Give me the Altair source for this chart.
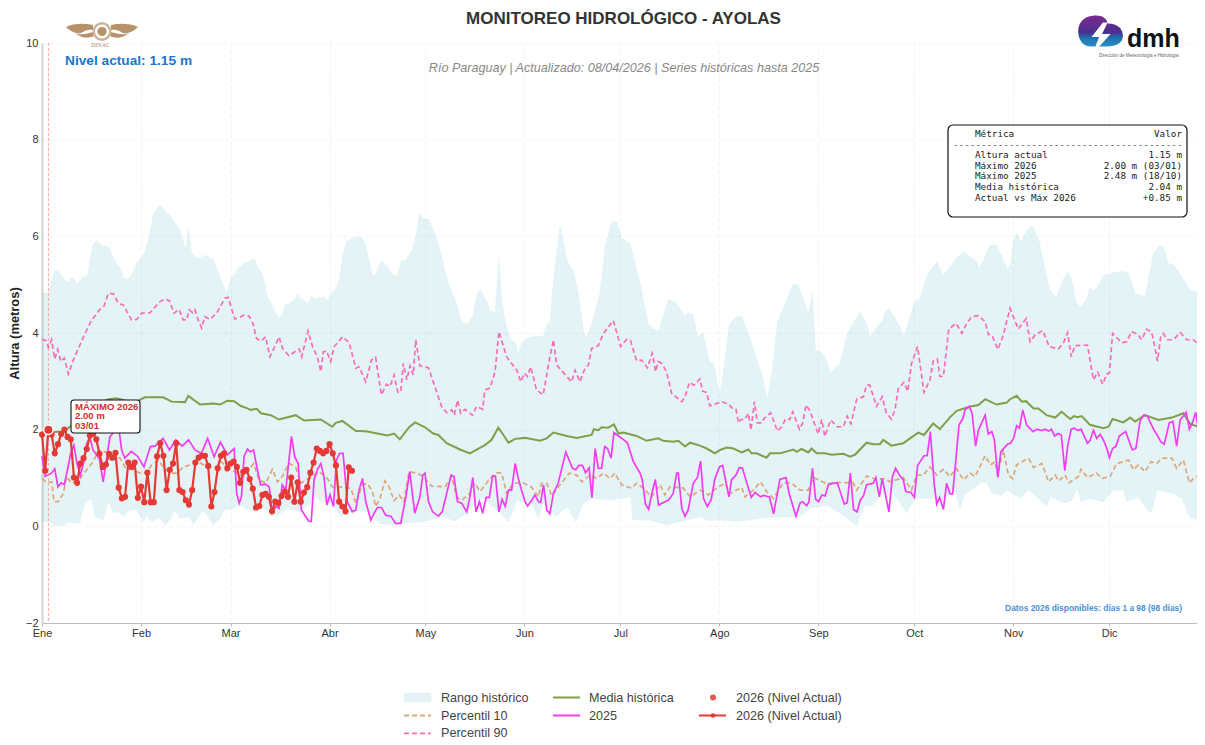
import urllib.parse
import altair as alt
import pandas as pd

# Values: (day of year, metres)
UPPER = [(1,4.82),(3,4.82),(4.9,5.3),(6.1,5.29),(7.7,5.13),(9.1,5.04),(10,5.15),(11,5.11),(12.2,5.01),(14,5.17),(15.2,5.17),(16.9,5.82),(18.2,5.91),(20.2,5.8),(21.8,5.79),(24.4,5.43),(25.3,5.37),(26.7,5.13),(28.1,5.11),(29.1,5.2),(30.7,5.44),(32.8,5.61),(34.2,5.86),(36,6.48),(38,6.65),(41.2,6.42),(44.3,6.14),(45.6,5.82),(46.2,5.75),(47,6.17),(48,5.63),(50,5.54),(52.5,5.61),(54.8,5.51),(57.4,5.06),(59,4.82),(60.5,5.17),(61.3,5.19),(62.9,5.37),(65,5.46),(66,5.49),(67.6,5.54),(68.6,5.36),(69.4,5.32),(70.7,5.1),(71.7,4.75),(73.3,4.58),(74.4,4.41),(75.4,4.3),(76.5,4.41),(77.5,4.6),(78.5,4.61),(80.3,4.7),(81.4,4.81),(82.2,4.7),(83.3,4.68),(84.5,4.61),(85.6,4.75),(86.9,4.7),(89.5,4.75),(90.6,4.67),(91.8,4.82),(93.2,4.92),(94.4,5.1),(95.3,5.58),(96.6,5.89),(98.4,5.96),(100,5.99),(101.6,5.96),(102.8,5.75),(104.2,5.34),(104.7,5.18),(105.5,5.2),(107.5,5.49),(109.4,5.39),(110.7,5.22),(112.5,5.17),(113.6,5.49),(115.2,5.5),(117.2,5.72),(118.3,5.99),(119.4,6.46),(120.7,6.36),(122.3,6.36),(124.3,6.06),(125.9,5.72),(128.5,5.03),(131.1,4.61),(132.5,4.27),(134.5,4.17),(136.2,4.34),(137.4,4.79),(138.5,4.91),(140.6,4.65),(141.6,4.46),(143.2,4.42),(144.4,5.54),(145.3,4.68),(146.8,4.1),(148.4,3.86),(149.7,3.79),(150.5,3.58),(151.5,3.79),(153.1,3.89),(156.2,3.94),(158.3,3.92),(159.4,4.17),(160.4,4.23),(161.5,5.1),(163.6,6.23),(165.7,5.51),(167.8,5.27),(169.3,4.82),(170.9,4.06),(171.6,3.89),(173.5,4.17),(176.1,4.82),(177.7,5.79),(179.8,6.3),(181.4,6.3),(182.9,5.96),(185.5,5.86),(188.7,5.03),(191.3,4.17),(194.4,4.03),(197.6,4.7),(199.7,4.65),(202.8,4.34),(203.8,4.42),(205.4,4.37),(206.7,3.92),(208.5,4.01),(210.6,3.37),(211.7,3.39),(213.8,2.72),(214.8,3.17),(216.7,4.17),(218.5,4.32),(220.6,4.35),(223.2,3.89),(225.3,3.44),(226.9,3.17),(228.6,2.61),(230.3,3.3),(231.8,4.23),(236.8,5.01),(238.4,4.99),(241.5,4.41),(242.8,4.82),(243.8,3.61),(245,3.65),(246.7,3.51),(248.5,3.17),(251.4,3.37),(253.8,3.99),(255.8,4.23),(257.7,4.44),(259.8,4.2),(260.8,3.92),(264,4.2),(264.7,4.2),(265.5,4.44),(266.8,4.51),(270.3,4.13),(271.5,3.92),(275,4.68),(276.7,4.72),(278.8,5.2),(281.8,5.48),(283.9,5.2),(286,5.37),(288,5.55),(290.2,5.68),(294.4,5.48),(295.1,5.32),(296.5,5.51),(298.6,5.82),(300.6,5.82),(304,5.32),(305,5.41),(305.9,5.92),(306.9,6.08),(308.2,5.87),(310.1,6.13),(311.9,6.22),(314,5.89),(317.1,4.92),(319.2,4.72),(321.6,5.13),(323.1,5.27),(324.2,5.1),(325.5,4.65),(327,4.52),(328.9,4.72),(329.9,4.95),(330.8,4.88),(332,4.92),(334.3,5.2),(337.3,5.25),(340.4,5.28),(342,5.23),(344.1,4.82),(347.2,4.75),(349.8,5.65),(351.4,5.79),(352.9,5.8),(354.5,5.44),(356.1,5.41),(357.7,5.27),(361.3,4.88),(363.4,4.86),(366,4.68)]

LOWER = [(1,.1),(3.5,.1),(5,.01),(7.7,.01),(9.3,.1),(10.8,.06),(12.9,.08),(14.5,.51),(16.6,.56),(17.6,.2),(20.2,.13),(21.8,.53),(23.4,.27),(25,.3),(26.5,.2),(28.6,.34),(30.7,.34),(32.8,.1),(33.8,.23),(35.4,.1),(38,.17),(39.6,.03),(41.2,.13),(42.7,.34),(44.3,.17),(47.4,.2),(48.5,.03),(51.6,.34),(54.8,.03),(57.1,.17),(58.1,.34),(60.2,.35),(62.9,.44),(66,.34),(68.1,.3),(70.2,.37),(72.8,.3),(74.9,.23),(78,.37),(82.2,.3),(85.3,.48),(86.9,.63),(88.5,.51),(91.1,.51),(92.7,.41),(94.8,.2),(96.8,.3),(98.9,.3),(102.1,.34),(105.2,.2),(106.8,.06),(111.5,.03),(116.5,.08),(120.7,.1),(127,.21),(130.6,.1),(133.2,.23),(137.4,.54),(139.5,.58),(143.2,.37),(147.4,.1),(150,.54),(152.6,.51),(154.7,.48),(156.8,.17),(158.3,.48),(162.5,.2),(165.7,.41),(168.5,.1),(170.9,.48),(173.5,.58),(179.3,.54),(183.4,.58),(185.7,.61),(186.4,.14),(191.8,.13),(197,.03),(203.3,.13),(207.5,.2),(210.1,.12),(213.8,.13),(219,.1),(227.4,.17),(232.6,.2),(238.9,.2),(242,.37),(247.3,.44),(252.5,.23),(256.7,.01),(258.8,.41),(261.9,.44),(264.5,.68),(268.2,.68),(272.4,.27),(275,.58),(280.7,.58),(284,.5),(286,.72),(287.6,.72),(289.1,.37),(290.7,.68),(292.8,.75),(295.4,.89),(297.5,.92),(299.1,.68),(302.2,.65),(303.8,.75),(308,.58),(310.6,.75),(313.7,.58),(316.3,.41),(317.4,.61),(322.1,.48),(324.2,.54),(326,.79),(327,.51),(329.9,.58),(334.1,.51),(337.3,.75),(340.4,.75),(341.4,.51),(345.1,.61),(348.2,.3),(349.3,.3),(350.9,.75),(356.1,.68),(358.7,.58),(361.3,.17),(364.5,.13),(366,.1)]

P10 = [(1,.99),(2.5,.9),(4,.92),(4.8,.51),(6.1,.51),(7.7,.68),(8.7,1.03),(10.3,.89),(12.9,.99),(15,1.17),(17.1,1.34),(18.7,1.58),(20.8,1.54),(25.5,1.41),(27,1.23),(29.6,1.17),(31.7,1.1),(33.8,1.1),(35.4,1.27),(37.5,1.37),(39,1.23),(41.2,1.1),(43.3,1.1),(45.3,1.23),(47.4,1.27),(50,1.34),(52.7,1.23),(55.8,1.23),(57.1,1.34),(59.7,1.2),(62.3,1.1),(64.4,1.03),(67.4,1.3),(69.1,.96),(71.2,.89),(73.3,1.18),(74.9,.92),(76.4,1.03),(78.5,1.3),(80.6,1.23),(82.2,.89),(84.8,.99),(88,1.13),(90.6,.99),(92.1,.82),(95.3,.81),(97.9,.79),(99.5,.48),(101.6,.86),(103.1,.89),(104.7,.72),(105.7,.41),(107.1,.58),(108.6,.94),(109.9,.82),(111.5,.53),(113.1,.65),(114.6,.51),(116.2,1.13),(118.6,1.1),(120.7,1.03),(123.3,.83),(127.5,.82),(129.6,1.03),(131.1,.61),(132.7,.54),(135.3,.68),(136.9,.89),(138.5,.72),(141.6,.99),(143.7,1.11),(145.3,1.1),(146.8,.68),(148.9,.89),(152,.9),(154.7,.81),(156.8,.61),(157.8,.89),(159.4,.89),(161,.63),(163.6,.86),(166.5,1.1),(168.8,1.06),(170.4,.92),(173,1.06),(175.1,.99),(177.2,1.1),(179.3,.99),(180.8,1.1),(182.9,.86),(186,.79),(187.6,.89),(189.7,.79),(192.3,.61),(195,.86),(196.5,.65),(198.1,.82),(202.3,.79),(204.4,.61),(207.5,.75),(210.1,.65),(213.3,.82),(215.4,.89),(216.9,.68),(219,.75),(220.6,.81),(221.6,.61),(224.2,.75),(226.5,.92),(228.4,.72),(230.5,.58),(233.7,.9),(236.3,.89),(238.9,.75),(241.5,.75),(243.1,1.01),(247.3,.88),(250.4,.91),(255.6,.9),(256.7,.75),(259.8,1.04),(262.9,.97),(265.6,.99),(267.1,.92),(271.3,1.01),(273.9,.75),(275.5,1.06),(277.6,1.06),(279.7,1.23),(281.8,1.06),(283.9,1.18),(286,1.03),(287.9,1.2),(290.2,.96),(292.3,1.1),(293.8,1.03),(297,1.46),(298.6,1.27),(300.1,1.34),(300.9,1.06),(302.7,1.58),(304.3,1.06),(305.6,.99),(306.9,1.27),(310.6,1.41),(312.2,1.22),(314.8,1.3),(316.9,.92),(319,1.06),(320,.94),(322.1,1.06),(323.3,.9),(326.3,1.03),(327.1,1.18),(329.1,1.01),(332,1.1),(333.6,.99),(336.2,1.03),(338.3,1.3),(342,1.37),(343.5,1.17),(345.1,1.27),(347.2,1.13),(349.1,1.34),(350.9,1.3),(352.4,1.41),(355.6,1.41),(357.1,1.2),(359.2,1.37),(361.1,.9),(362.9,1.03),(364.5,1.03),(366,1.13)]

P90 = [(1,3.87),(2.3,3.84),(3,3.7),(4,3.86),(5,3.46),(5.9,3.66),(6.9,3.41),(8,3.48),(9.3,3.15),(10.8,3.44),(12.9,3.75),(14.5,3.99),(16.6,4.27),(19.2,4.49),(20.5,4.56),(21.8,4.82),(23.4,4.81),(25,4.61),(26.5,4.58),(29.1,4.27),(30.7,4.28),(32.3,4.41),(34.9,4.42),(38,4.65),(39.6,4.7),(41,4.67),(42.4,4.41),(44,4.49),(45.3,4.27),(46.4,4.27),(47.2,4.48),(48.3,4.42),(49,4.48),(50,4.27),(51.1,4.1),(52.1,4.34),(53.7,4.28),(55.8,4.41),(58.4,4.72),(59.4,4.74),(61.5,4.29),(62.9,4.32),(64.4,4.37),(66,4.35),(67.2,4.2),(68.3,3.89),(69.7,3.83),(71.2,3.92),(72.5,3.51),(73.8,3.68),(75.4,3.92),(76.5,3.68),(78.5,3.53),(81.7,3.67),(82.5,3.51),(84.5,4.04),(85.9,3.72),(87.4,3.51),(88.5,3.2),(89.3,3.61),(90.3,3.63),(91.6,3.41),(92.7,3.72),(95.3,3.92),(97.4,3.8),(99.5,3.27),(100.5,3.3),(102.6,2.99),(104.4,3.44),(105.7,3.5),(107.5,2.72),(109.1,2.94),(110.2,2.89),(111.5,3.13),(112.7,2.77),(113.6,2.79),(114.4,3.37),(115.5,3.03),(116.5,3.32),(117.5,3.13),(118.3,3.86),(119.6,3.32),(122.3,3.28),(124.3,2.89),(126.4,2.48),(128,2.35),(129.6,2.41),(130.4,2.3),(131.4,2.61),(132.4,2.34),(133.8,2.42),(136.1,2.3),(137.4,2.48),(139.3,2.42),(140,2.82),(141.6,2.86),(143.2,3.2),(144.4,4.03),(146.8,3.51),(150,3.23),(151.3,2.99),(152.4,3.17),(153.3,3.1),(154.4,3.3),(156.2,2.82),(158.3,2.72),(160.2,3.44),(161.5,3.86),(162.5,3.34),(165.7,3.1),(167.2,2.99),(168.3,3.23),(169.8,2.99),(171.4,3.27),(172.5,3.34),(173.5,3.68),(175.6,3.74),(177.2,3.99),(180.3,4.26),(182.6,3.72),(184.5,3.87),(185.7,3.84),(187.6,3.43),(189.2,3.44),(191,3.28),(192.5,3.58),(193.6,3.2),(194.4,3.41),(195.5,3.37),(197,3.2),(198.6,2.75),(201.8,2.58),(202.8,2.68),(204.2,2.98),(205.6,2.92),(207.5,3.05),(208.3,2.8),(209.6,2.77),(210.6,2.49),(214.3,2.58),(216.4,2.53),(218,2.42),(218.8,2.42),(219.6,2.14),(220.3,2.21),(221.6,2.21),(222.7,2.34),(223.5,1.99),(224.6,2.58),(225.5,2.14),(226.9,2.14),(227.6,2.23),(229.7,2.35),(231.8,1.97),(233.1,2.06),(234.5,2.23),(235.7,2.21),(236.6,2.37),(238.7,2.01),(239.7,2.13),(240.8,2.51),(242,2.39),(244.6,1.91),(245.7,2.21),(246.7,1.86),(248.5,2.2),(250.6,2.06),(252.5,2.06),(253.7,2.28),(254.9,2.12),(256.7,2.63),(258.8,2.68),(259.8,2.92),(260.8,2.92),(262.9,2.48),(264.7,2.68),(266,2.34),(267.6,2.22),(268.7,2.41),(269.7,2.84),(271.5,2.98),(272.7,2.79),(273.9,3.37),(275.8,3.72),(277.8,2.77),(279.7,3.03),(280.7,3.42),(282,3.46),(282.8,3.1),(283.9,3.1),(285.6,4.08),(287.9,4.2),(289.7,3.99),(291.2,4.2),(292.8,4.34),(294.9,4.36),(297,4.23),(298,3.97),(299.1,3.96),(301,3.66),(302.7,3.96),(304.8,4.51),(307.4,4.08),(309.9,4.3),(311.1,3.82),(312.7,3.96),(315.1,4.05),(317.1,3.72),(320,3.67),(321.6,3.8),(322.9,4.01),(324,3.51),(325.2,3.74),(329.1,3.75),(331,3.03),(332.3,3.19),(333.9,2.94),(335.2,3.15),(336,3.17),(337,3.99),(339.9,3.8),(341.4,3.82),(343,4.03),(345.1,3.96),(346.1,3.86),(347.7,4.08),(349.3,4.01),(351.1,3.42),(352.1,3.92),(352.9,3.99),(354.2,3.86),(356.1,3.86),(358.2,4.01),(360.3,3.86),(362.4,3.86),(364.5,3.72),(366,4.17)]

MEAN = [(1,1.95),(4,1.95),(7.7,1.96),(9.8,2.06),(13,2.2),(17,2.5),(21.8,2.63),(24.4,2.65),(28.6,2.58),(31.2,2.6),(33.3,2.67),(39,2.67),(41.7,2.58),(45.9,2.57),(46.9,2.7),(50.6,2.52),(54.8,2.54),(56.9,2.52),(59.2,2.6),(61.3,2.59),(63.4,2.49),(65.5,2.44),(66.5,2.41),(68.4,2.43),(69.7,2.34),(72.8,2.3),(75.4,2.21),(80.6,2.3),(83.3,2.19),(88.5,2.21),(92.1,2.06),(93.2,2.14),(95.3,2.18),(99.5,1.97),(101,1.97),(103.1,1.96),(109.4,1.88),(111.5,1.92),(113.3,1.8),(116.2,2.05),(118.1,2.15),(121.2,2.05),(123.8,1.92),(125.4,1.89),(128,1.72),(132.2,1.59),(135.3,1.51),(138,1.61),(140,1.68),(142.1,1.79),(144.2,2.04),(145.8,1.89),(147.4,1.73),(149.5,1.81),(152.6,1.83),(157.3,1.77),(159.4,1.82),(161.5,1.94),(165.7,1.87),(168.8,1.83),(173.5,1.89),(174.2,2.01),(175.6,1.99),(176.6,2.05),(178.7,2.04),(180.5,2.11),(181.9,1.92),(183.4,1.94),(187.6,1.87),(190.8,1.77),(194.4,1.82),(196,1.77),(199.1,1.75),(200.7,1.77),(202.8,1.65),(204.4,1.73),(207.5,1.67),(209.6,1.61),(212.2,1.51),(213.8,1.58),(215.9,1.63),(218,1.61),(220.6,1.53),(222.7,1.59),(223.7,1.51),(225.3,1.51),(228.4,1.42),(229.5,1.51),(232.6,1.51),(236.8,1.59),(237.8,1.54),(239.4,1.6),(241.5,1.53),(242.5,1.61),(244.1,1.51),(246.7,1.51),(248.8,1.48),(252.5,1.5),(254.6,1.44),(256.1,1.48),(259.8,1.73),(261.9,1.7),(264,1.7),(265,1.79),(267.6,1.67),(271.3,1.72),(273.4,1.82),(276,1.94),(277.8,1.89),(280.7,2.13),(282.8,2.01),(286,2.26),(288.1,2.39),(292.3,2.48),(294.9,2.51),(297,2.63),(300.6,2.52),(303.8,2.56),(304.8,2.63),(306.9,2.7),(308.5,2.58),(309.8,2.59),(312.2,2.44),(313.7,2.44),(316.3,2.3),(319,2.25),(321,2.37),(323.7,2.22),(324.9,2.28),(326,2.26),(327.3,2.28),(329.9,2.1),(334.1,2.03),(335.7,2.06),(337,2.22),(340.4,2.15),(342.5,2.25),(344.1,2.17),(347.2,2.3),(351.4,2.2),(355.6,2.25),(359.2,2.34),(361.3,2.12),(364.5,2.05),(366,2.12)]

Y2025 = [(1,1.45),(2,1.03),(4,1.1),(5,1.19),(6,.82),(7,.9),(8,.86),(9,1.17),(10,1.51),(11,1.68),(12,1.3),(13,1.05),(14,1.3),(15,1.7),(16,1.85),(17,1.58),(19,1.4),(20.2,.92),(22.3,1.85),(25,2.08),(26,1.58),(27,1.41),(29,1.55),(31,1.45),(33,1.23),(35,1.65),(36.5,1.66),(39,1.82),(41,1.58),(43,1.79),(45,1.66),(47,1.79),(49,1.58),(51,1.51),(53,1.82),(55,1.44),(57,1.74),(59.2,1.48),(61.3,1.61),(62.1,.68),(62.9,.48),(63.6,.61),(64.4,1.44),(65.5,1.6),(66.3,1.54),(67.4,1.58),(68.6,1.17),(69.6,.86),(71.2,.87),(72.3,.82),(73.3,.3),(74.4,.41),(75.4,.37),(76.4,.86),(77.5,.75),(79.3,1.86),(80.3,1.44),(81.4,1.3),(82.4,.34),(83.8,.2),(84.8,.1),(85.5,.1),(86.4,.96),(87.4,1.17),(88.5,1.3),(89.5,1.03),(90.4,.44),(91.4,.65),(92.5,.41),(93.4,1.37),(94.4,1.51),(95.5,1.51),(96.8,.51),(98.4,.3),(99.5,.34),(100.5,.75),(101.6,.99),(102.6,.51),(104.2,.13),(105.2,.27),(106.3,.39),(107.5,.39),(108.9,.23),(110.5,.21),(112,.06),(113.6,.06),(115.2,.61),(116.4,1.13),(118,.27),(119.6,.61),(120.5,1.06),(121.2,1.1),(122.3,.51),(123.6,.3),(125.4,.21),(126.6,.3),(128,.68),(129.4,1.06),(130.3,1.03),(131.4,.51),(132.7,.48),(134.3,.3),(135.1,.54),(136.2,1.01),(137.2,.3),(138.3,.51),(139.3,.27),(140.4,.6),(141.4,.6),(142.4,1.04),(143.3,1.04),(144.4,.3),(145.4,.56),(146.4,.41),(147.4,.75),(148.4,.75),(149.5,1.3),(150.5,.99),(151.5,.75),(152.6,.51),(153.4,.42),(154.7,.54),(155.7,.65),(156.8,.51),(157.5,.49),(158.4,.86),(159.4,.34),(160.4,.26),(161.5,.68),(163,.89),(165.4,1.54),(167.5,1.2),(168.5,1.17),(169.5,1.26),(170.6,1.26),(171.6,1.11),(172.7,1.21),(173.6,.59),(174.6,1.61),(175.6,1.2),(176.6,1.2),(177.6,1.65),(178.5,1.61),(179.6,1.41),(180.5,1.94),(181.9,1.87),(183.4,1.8),(184.7,1.73),(186.6,1.34),(188.7,1.1),(189.4,.96),(190.4,.46),(191.4,.35),(192.4,.68),(193.5,.97),(194.5,.44),(196.5,.51),(197.6,.54),(199.1,.68),(200.2,1.1),(200.7,1.1),(201.8,.37),(202.8,.21),(203.8,.34),(205.4,.89),(206.7,1.01),(207.7,1.35),(208.6,.58),(209.8,.41),(211,.54),(212.2,.99),(213.6,1.23),(214.6,1.26),(216.6,.61),(217.4,.96),(218.8,1.06),(219.8,1.21),(220.8,1.21),(222.1,.92),(223.6,.6),(224.8,.7),(226.5,.61),(227.4,.64),(229.3,.61),(230.6,.26),(232.6,.97),(234.5,1.01),(235.5,.68),(237.6,.21),(238.9,.48),(239.7,.51),(241,.43),(241.7,.51),(242.8,1.2),(243.8,.56),(244.7,.51),(245.8,.65),(246.8,.63),(247.8,.86),(249.3,.89),(250.6,.9),(252.8,.46),(253.7,.49),(254.7,1.1),(255.7,.35),(256.8,.3),(257.8,.54),(258.8,.63),(259.8,.86),(261.9,.89),(262.7,1.01),(263.8,.61),(264.7,.99),(266.8,.3),(267.9,1.03),(268.9,1.2),(270.3,1.04),(271.3,.96),(272.1,.72),(273.7,.7),(274.8,.6),(275.8,1.26),(277.8,1.46),(278.8,1.46),(279.8,1.96),(281,.89),(281.8,.46),(282.7,.6),(283.9,.35),(284.9,.89),(286,.67),(286.8,.67),(287.6,1.23),(288.8,2.1),(290,2.23),(290.7,2.41),(292,2.48),(292.9,2.34),(294,1.66),(294.9,1.99),(297,2.3),(298,1.91),(299.1,1.96),(299.9,1.79),(301,1.01),(301.9,1.54),(304,1.7),(305,1.72),(305.9,1.82),(306.9,2.08),(307.8,2.03),(308.8,2.41),(310,2.1),(312,1.96),(313.2,2.01),(314.8,1.98),(315.8,2.01),(316.9,1.97),(317.8,2.01),(318.8,1.87),(319.9,1.92),(320.9,1.89),(322,1.15),(322.9,1.66),(324,2.01),(325,2.03),(326.1,1.98),(327.1,2.01),(329.1,1.72),(329.9,1.77),(331,1.99),(332,1.82),(333.1,1.9),(334.1,1.79),(335.2,1.61),(336,1.42),(337,1.61),(338.1,1.66),(339.1,1.87),(341.1,1.96),(343.2,1.58),(344.3,1.61),(345.6,2.17),(346.7,2.3),(347.9,2.28),(350,1.99),(351,1.89),(352.1,1.75),(353.2,1.7),(354.8,2.14),(355.9,2.17),(357.1,1.66),(358.2,2.2),(360.1,2.36),(361.1,2.01),(362,2.13),(363.1,2.36),(364.1,1.91),(365.2,1.99),(366,1.96)]

Y2026 = [1.9,1.15,2.0,1.9,1.51,1.7,1.91,2.0,1.85,1.8,1.01,.9,1.3,1.41,1.6,1.88,1.92,1.8,1.5,1.23,1.28,1.5,1.42,1.52,.8,.58,.61,1.32,1.23,1.32,.59,.82,.5,1.11,.5,.5,1.45,1.72,1.46,.75,1.17,1.3,1.72,.75,.71,.54,.45,.75,1.32,1.42,1.46,1.46,1.25,.41,.71,1.2,1.46,1.51,1.2,1.3,1.34,1.23,.9,1.13,1.17,.98,.78,.39,.42,.65,.67,.61,.31,.51,.48,.63,.72,.61,1.01,.51,.91,.51,.7,.81,1.11,1.32,1.61,1.56,1.51,1.56,1.7,1.51,1.26,.51,.41,.31,1.22,1.15]

MONTH_DAYS = [1, 32, 60, 91, 121, 152, 182, 213, 244, 274, 305, 335]
MONTH_NAMES = ["Ene", "Feb", "Mar", "Abr", "May", "Jun", "Jul", "Ago", "Sep", "Oct", "Nov", "Dic"]
MAX_DAY, MAX_VAL = 3, 2.0

FONT = "Liberation Sans"
BAND, C10, C90, CMEAN, C25, C26 = "#3fb0bf", "#dda679", "#f96cb8", "#7f9f4a", "#f23cf2", "#e53935"
OX, OY = 42, 43  # page position of the plot origin
W, H = 1163, 580


def cal(pairs):
    # readings were taken on a 365-interval ruler; the axis spans 364 days
    return pd.DataFrame({"d": [1 + (d - 1) * 364 / 365 for d, _ in pairs], "v": [v for _, v in pairs]})


xs = alt.X("d:Q", scale=alt.Scale(domain=[1, 365], nice=False, zero=False),
           axis=alt.Axis(values=MONTH_DAYS, title=None, grid=True, gridColor="#e9e9e9", gridDash=[4, 3], gridOpacity=.7,
                         gridWidth=.8, domainColor="#bbbbbb", domainWidth=1, tickColor="#bbbbbb", tickSize=3, labelFont=FONT,
                         labelFontSize=11, labelColor="#333333", labelPadding=1, labelFlush=False, labelOverlap=False,
                         labelExpr="['Ene','Feb','Mar','Abr','May','Jun','Jul','Ago','Sep','Oct','Nov','Dic'][indexof([1,32,60,91,121,152,182,213,244,274,305,335],datum.value)]"))
ys = alt.Y("v:Q", scale=alt.Scale(domain=[-2, 10], nice=False, zero=False),
           axis=alt.Axis(values=[-2, 0, 2, 4, 6, 8, 10], title="Altura (metros)", titleFont=FONT, titleFontSize=12.9,
                         titleFontWeight="bold", titleColor="#222222", titleX=-21, titleY=290, grid=True, gridColor="#e9e9e9",
                         gridDash=[4, 3], gridOpacity=.7, gridWidth=.8, domainColor="#d4d4d4", domainWidth=2, ticks=False,
                         labelFont=FONT, labelFontSize=11, labelColor="#333333", labelPadding=4))


def line(pairs, color, width=1.6, dash=None, opacity=1.0):
    kw = {"strokeDash": dash} if dash else {}
    return alt.Chart(cal(pairs)).mark_line(color=color, strokeWidth=width, opacity=opacity, **kw).encode(x=xs, y=ys)


band_df = pd.concat([cal(UPPER), cal(LOWER)[::-1]], ignore_index=True)
band_df["i"] = range(len(band_df))
band = alt.Chart(band_df).mark_line(fill=BAND, fillOpacity=.14, stroke=BAND, strokeOpacity=.05, strokeWidth=1).encode(
    x=xs, y=ys, order=alt.Order("i:Q"))

d26 = pd.DataFrame({"d": list(range(1, len(Y2026) + 1)), "v": Y2026})
l26 = alt.Chart(d26).mark_line(color=C26, strokeWidth=2.2).encode(x=xs, y=ys)
p26 = alt.Chart(d26).mark_circle(color=C26, opacity=1, size=38).encode(x=xs, y=ys)
dmax = pd.DataFrame({"d": [MAX_DAY], "v": [MAX_VAL]})
vrule = alt.Chart(dmax).mark_rule(color="#ff8a8a", strokeDash=[3, 2], strokeWidth=.8).encode(x=xs)
pmax = alt.Chart(dmax).mark_circle(color=C26, opacity=1, size=90, stroke="white", strokeWidth=1.5).encode(x=xs, y=ys)


def txt(text, px, py, size, color="#333333", weight="normal", align="left", font=FONT, style="normal", opacity=1.0):
    return alt.Chart(pd.DataFrame({"t": [text]})).mark_text(
        align=align, baseline="middle", fontSize=size, color=color, fontWeight=weight, font=font, fontStyle=style, opacity=opacity
    ).encode(text="t:N", x=alt.value(px - OX), y=alt.value(py - OY))


def box(x0, y0, x1, y1, fill, stroke, sw=1.2, radius=4, opacity=1.0):
    return alt.Chart(pd.DataFrame({"k": [0]})).mark_rect(
        fill=fill, stroke=stroke, strokeWidth=sw, cornerRadius=radius, opacity=opacity
    ).encode(x=alt.value(x0 - OX), x2=alt.value(x1 - OX), y=alt.value(y0 - OY), y2=alt.value(y1 - OY))


def hrule(x0, x1, y, color, sw, dash=None):
    kw = {"strokeDash": dash} if dash else {}
    return alt.Chart(pd.DataFrame({"k": [0]})).mark_rule(color=color, strokeWidth=sw, **kw).encode(
        x=alt.value(x0 - OX), x2=alt.value(x1 - OX), y=alt.value(y - OY))


def dot(px, py, color, size, opacity=1.0):
    return alt.Chart(pd.DataFrame({"k": [0]})).mark_circle(color=color, size=size, opacity=opacity).encode(
        x=alt.value(px - OX), y=alt.value(py - OY))


def svg_image(svg, x0, y0, w, h):
    url = "data:image/svg+xml," + urllib.parse.quote(svg)
    return alt.Chart(pd.DataFrame({"u": [url]})).mark_image(width=w, height=h, align="left", baseline="top").encode(
        url="u:N", x=alt.value(x0 - OX), y=alt.value(y0 - OY))


WINGS = """<svg xmlns='http://www.w3.org/2000/svg' viewBox='0 0 72 20'>
<g fill='#b8926a'><path d='M0 5 C8 1 18 1 27 3 L27 8 C20 7 18 10 15 11 C10 12 4 9 0 5Z'/>
<path d='M72 5 C64 1 54 1 45 3 L45 8 C52 7 54 10 57 11 C62 12 68 9 72 5Z'/>
<path d='M9 11 C16 14 22 11 27 10 L28 14 C22 17 15 16 9 11Z'/>
<path d='M63 11 C56 14 50 11 45 10 L44 14 C50 17 57 16 63 11Z'/></g>
<circle cx='36' cy='9.5' r='8.2' fill='none' stroke='#cdb49a' stroke-width='2.4'/>
<circle cx='36' cy='9.5' r='4.6' fill='#b8926a'/></svg>"""

BLOB = """<svg xmlns='http://www.w3.org/2000/svg' viewBox='0 0 50 42'>
<defs><linearGradient id='g' x1='0' y1='0' x2='0' y2='1'><stop offset='0' stop-color='#7b2a8f'/><stop offset='.55' stop-color='#4b2f8e'/><stop offset='.72' stop-color='#1f6fb0'/><stop offset='1' stop-color='#2a8fc4'/></linearGradient></defs>
<path d='M14 1 C24 -1 30 3 31 9 C42 9 47 15 47 22 C47 29 40 33 30 33 L13 33 C5 33 0 26 0 17 C0 8 6 2 14 1Z' fill='url(#g)'/>
<path d='M26 8 L14 23 L22 23 L15 41 L34 20 L25 20 L31 8Z' fill='#ffffff'/></svg>"""

logos = [svg_image(WINGS, 66, 22, 72, 20), svg_image(BLOB, 1078, 15, 48, 40),
         txt("DINAC", 91, 45, 6, "#a98c70", font="Liberation Serif"),
         txt("dmh", 1127, 39, 25, "#111111", "bold", font="Liberation Sans"),
         txt("Dirección de Meteorología e Hidrología", 1099, 55.5, 4.6, "#666666")]

header = [txt("Nivel actual: 1.15 m", 65, 60.5, 13.7, "#1976d2", "bold"),
          txt("Río Paraguay | Actualizado: 08/04/2026 | Series históricas hasta 2025", 624, 67.5, 12.6, "#888888", style="italic", align="center")]

ann = [box(71, 400, 140, 433, "white", "#111111", 1.1, 3)] + [
    txt(t, 75, y, 9.6, "#d32f2f", "bold") for t, y in [("MÁXIMO 2026", 406.5), ("2.00 m", 416), ("03/01", 426)]]

MONO = "DejaVu Sans Mono"
TABLE_ROWS = [("Altura actual", "1.15 m"), ("Máximo 2026", "2.00 m (03/01)"), ("Máximo 2025", "2.48 m (18/10)"),
              ("Media histórica", "2.04 m"), ("Actual vs Máx 2026", "+0.85 m")]
table = [box(948, 125, 1187, 217, "white", "#111111", 1.2, 5),
         txt("Métrica", 975, 134, 9.3, "#222222", font=MONO), txt("Valor", 1182, 134, 9.3, "#222222", align="right", font=MONO),
         txt("-" * 41, 953, 145, 9.3, "#555555", font=MONO)]
for i, (a, b) in enumerate(TABLE_ROWS):
    y = 155 + i * 10.7
    table += [txt(a, 975, y, 9.3, "#222222", font=MONO), txt(b, 1182, y, 9.3, "#222222", align="right", font=MONO)]

footer = [txt("Datos 2026 disponibles: días 1 a 98 (98 días)", 1182, 608, 8.4, "#4a90d9", "bold", align="right")]

R1, R2, R3 = 697.5, 715.5, 733.3
LEG = [("Rango histórico", 441, R1), ("Percentil 10", 441, R2), ("Percentil 90", 441, R3), ("Media histórica", 589, R1),
       ("2025", 589, R2), ("2026 (Nivel Actual)", 736, R1), ("2026 (Nivel Actual)", 736, R2)]
legend = [box(404, R1 - 4.5, 431, R1 + 4.5, BAND, BAND, .5, 0, .14),
          hrule(404, 431, R2, C10, 1.8, [5, 3]), hrule(404, 431, R3, C90, 1.8, [5, 3]),
          hrule(553, 580, R1, CMEAN, 2), hrule(553, 580, R2, C25, 2),
          dot(713, R1, C26, 36, .85), hrule(699, 726, R2, C26, 2), dot(713, R2, C26, 22)]
legend += [txt(t, x, y, 12.6, "#444444") for t, x, y in LEG]

marks = [band, line(P10, C10, 1.7, [5, 3]), line(P90, C90, 1.7, [5, 3]), line(MEAN, CMEAN, 2), line(Y2025, C25, 1.7), vrule, l26, p26, pmax]
chart = alt.layer(*(marks + ann + table + footer + header + logos + legend)).properties(
    width=W, height=H, autosize=alt.AutoSizeParams(type="none"),
    padding={"left": OX - 8, "top": OY - 8, "right": -8, "bottom": 118},
    title=alt.TitleParams("MONITOREO HIDROLÓGICO - AYOLAS", anchor="middle", font=FONT, fontSize=17, fontWeight="bold", color="#333333", offset=-12.5),
    background="white",
).configure_view(stroke=None)

chart.save("out.html", embed_options={"renderer": "svg", "actions": False})
